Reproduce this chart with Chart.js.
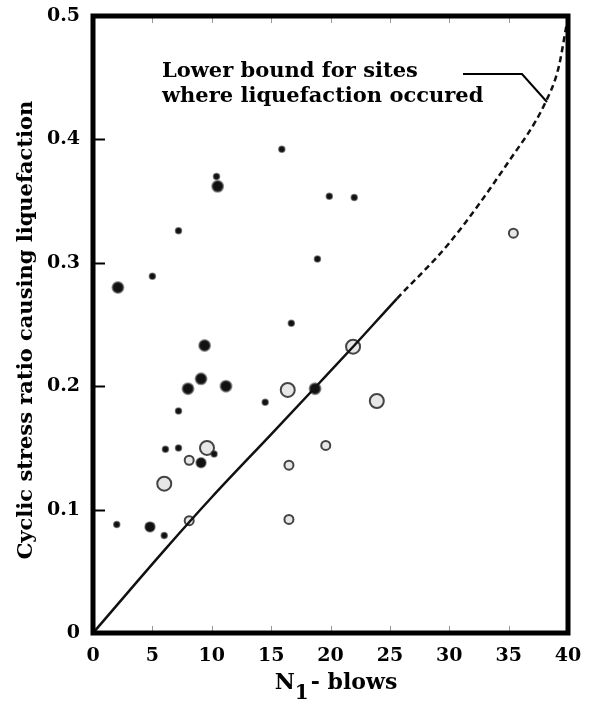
<!DOCTYPE html>
<html>
<head>
<meta charset="utf-8">
<script src="https://cdn.jsdelivr.net/npm/chart.js@4/dist/chart.umd.min.js"></script>
<style>
  html, body { margin: 0; padding: 0; background: #fff; }
  canvas { display: block; }
</style>
</head>
<body>
<canvas id="c" width="599" height="702"></canvas>
<script>
// Axis ticks
const xTicks = [0, 5, 10, 15, 20, 25, 30, 35, 40];
const yTicks = [0, 0.1, 0.2, 0.3, 0.4, 0.5];

// Field cases: [N1 blows, cyclic stress ratio]
const smallFilled = [
  [2.0, 0.088], [5.0, 0.289], [7.2, 0.326], [10.4, 0.370], [15.9, 0.392],
  [19.9, 0.354], [22.0, 0.353], [18.9, 0.303], [16.7, 0.251], [14.5, 0.187],
  [7.2, 0.180], [6.1, 0.149], [7.2, 0.150], [10.2, 0.145], [6.0, 0.079]
];
const mediumFilled = [
  [9.1, 0.138], [4.8, 0.086]
];
const largeFilled = [
  [2.1, 0.280], [10.5, 0.362], [9.4, 0.233], [9.1, 0.206], [8.0, 0.198],
  [11.2, 0.200], [18.7, 0.198]
];
const openLarge = [
  [6.0, 0.121], [9.6, 0.150], [16.4, 0.197], [21.9, 0.232], [23.9, 0.188]
];
const openSmall = [
  [8.1, 0.140], [8.1, 0.091], [16.5, 0.092], [16.5, 0.136], [19.6, 0.152], [35.4, 0.324]
];

// Lower bound curve
const boundN   = [0, 6, 10, 15, 19, 22, 25.6, 30, 35, 38, 39.2, 39.9];
const boundCSR = [0, 0.067, 0.110, 0.161, 0.202, 0.233, 0.271, 0.316, 0.382, 0.428, 0.458, 0.494];
const dashFromN = 25.6;

const SERIF = '"DejaVu Serif", "Liberation Serif", serif';

const toPts = arr => arr.map(p => ({ x: p[0], y: p[1] }));

const decorations = {
  id: 'decorations',
  afterDatasetsDraw(chart) {
    const ctx = chart.ctx;
    const a = chart.chartArea;
    const xs = chart.scales.x, ys = chart.scales.y;
    ctx.save();

    // inward tick stubs on the y axis
    ctx.strokeStyle = '#000';
    ctx.lineWidth = 2;
    yTicks.forEach(v => {
      if (v === 0 || v === 0.5) return;
      const py = Math.round(ys.getPixelForValue(v)) + 0.5;
      ctx.beginPath();
      ctx.moveTo(a.left, py);
      ctx.lineTo(a.left + 12, py);
      ctx.stroke();
    });
    // faint tick marks along top and bottom
    ctx.strokeStyle = '#999';
    ctx.lineWidth = 1;
    xTicks.forEach(v => {
      if (v === 0 || v === 40) return;
      const px = Math.round(xs.getPixelForValue(v)) + 0.5;
      ctx.beginPath();
      ctx.moveTo(px, a.bottom); ctx.lineTo(px, a.bottom - 7);
      ctx.moveTo(px, a.top); ctx.lineTo(px, a.top + 7);
      ctx.stroke();
    });

    // heavy frame
    ctx.strokeStyle = '#000';
    ctx.lineWidth = 5;
    ctx.strokeRect(a.left, a.top, a.right - a.left, a.bottom - a.top);

    // annotation and leader
    ctx.fillStyle = '#000';
    ctx.font = 'bold 21px ' + SERIF;
    ctx.textAlign = 'left';
    ctx.textBaseline = 'alphabetic';
    ctx.fillText('Lower bound for sites', 162, 77);
    ctx.fillText('where liquefaction occured', 162, 102);
    ctx.lineWidth = 2;
    ctx.beginPath();
    ctx.moveTo(463, 74);
    ctx.lineTo(522, 74);
    ctx.lineTo(547, 102);
    ctx.stroke();

    // y axis title
    ctx.save();
    ctx.translate(27, 330);
    ctx.rotate(-Math.PI / 2);
    ctx.font = 'bold 21px ' + SERIF;
    ctx.textAlign = 'center';
    ctx.textBaseline = 'middle';
    ctx.fillText('Cyclic stress ratio causing liquefaction', 0, 0);
    ctx.restore();

    // x axis title with subscript
    const base = 689;
    ctx.font = 'bold 22px ' + SERIF;
    ctx.textAlign = 'left';
    ctx.textBaseline = 'alphabetic';
    const wN = ctx.measureText('N').width;
    ctx.font = 'bold 20px ' + SERIF;
    const w1 = ctx.measureText('1').width;
    ctx.font = 'bold 22px ' + SERIF;
    const wRest = ctx.measureText('- blows').width;
    const total = wN + w1 + 2 + wRest;
    const x0 = 336 - total / 2;
    ctx.fillText('N', x0, base);
    ctx.font = 'bold 20px ' + SERIF;
    ctx.fillText('1', x0 + wN, base + 10);
    ctx.font = 'bold 22px ' + SERIF;
    ctx.fillText('- blows', x0 + wN + w1 + 2, base);

    ctx.restore();
  }
};

new Chart(document.getElementById('c'), {
  type: 'scatter',
  data: {
    datasets: [
      {
        type: 'line',
        data: boundN.map((n, i) => ({ x: n, y: boundCSR[i] })),
        borderColor: '#111',
        borderWidth: 2.5,
        pointRadius: 0,
        fill: false,
        cubicInterpolationMode: 'monotone',
        segment: {
          borderDash: c => (c.p0.parsed.x >= dashFromN ? [6, 4] : undefined)
        }
      },
      {
        data: toPts(smallFilled),
        pointRadius: 3,
        backgroundColor: '#111',
        borderColor: 'rgba(60,60,60,0.6)',
        borderWidth: 1.5
      },
      {
        data: toPts(mediumFilled),
        pointRadius: 5,
        backgroundColor: '#111',
        borderColor: 'rgba(80,80,80,0.6)',
        borderWidth: 1.5
      },
      {
        data: toPts(largeFilled),
        pointRadius: 5.5,
        backgroundColor: '#111',
        borderColor: 'rgba(80,80,80,0.6)',
        borderWidth: 2
      },
      {
        data: toPts(openLarge),
        pointRadius: 7,
        backgroundColor: 'rgba(225,225,225,0.8)',
        borderColor: '#444',
        borderWidth: 2
      },
      {
        data: toPts(openSmall),
        pointRadius: 4.5,
        backgroundColor: 'rgba(225,225,225,0.8)',
        borderColor: '#444',
        borderWidth: 2
      }
    ]
  },
  options: {
    responsive: false,
    animation: false,
    events: [],
    layout: { padding: { top: 16, right: 31, bottom: 0, left: 0 } },
    plugins: { legend: { display: false }, tooltip: { enabled: false } },
    scales: {
      x: {
        type: 'linear',
        min: 0, max: 40,
        grid: { display: false, drawTicks: false },
        border: { display: false },
        afterFit: s => { s.height = 69; s.paddingLeft = 0; s.paddingRight = 0; },
        afterBuildTicks: s => { s.ticks = xTicks.map(v => ({ value: v })); },
        ticks: {
          padding: 12,
          color: '#000',
          font: { family: SERIF, size: 19, weight: 'bold' },
          callback: v => String(v)
        }
      },
      y: {
        type: 'linear',
        min: 0, max: 0.5,
        grid: { display: false, drawTicks: false },
        border: { display: false },
        afterFit: s => { s.width = 93; s.paddingTop = 0; s.paddingBottom = 0; },
        afterBuildTicks: s => { s.ticks = yTicks.map(v => ({ value: v })); },
        ticks: {
          padding: 13,
          color: '#000',
          font: { family: SERIF, size: 19, weight: 'bold' },
          callback: v => (v === 0 ? '0' : v.toFixed(1))
        }
      }
    }
  },
  plugins: [decorations]
});
</script>
</body>
</html>
